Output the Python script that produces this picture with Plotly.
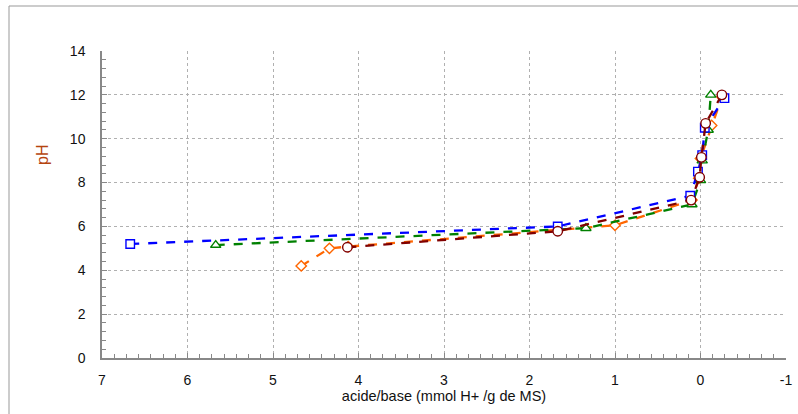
import plotly.graph_objects as go

# Data
orange_x = [4.67, 4.34, 4.12, 1.00, 0.10, 0.02, 0.00, -0.13, -0.25]
orange_y = [4.20, 5.00, 5.08, 6.05, 7.20, 8.20, 9.10, 10.60, 11.90]

green_x = [5.67, 1.34, 0.10, 0.00, -0.02, -0.09, -0.12]
green_y = [5.15, 5.92, 7.00, 8.10, 9.00, 10.40, 12.00]

blue_x = [6.67, 1.67, 0.12, 0.03, -0.02, -0.05, -0.28]
blue_y = [5.20, 6.00, 7.40, 8.50, 9.25, 10.50, 11.85]

red_x = [4.13, 1.67, 0.11, 0.01, -0.01, -0.06, -0.25]
red_y = [5.05, 5.78, 7.20, 8.24, 9.15, 10.70, 12.00]

x_ticks = [7, 6, 5, 4, 3, 2, 1, 0, -1]
y_ticks = [0, 2, 4, 6, 8, 10, 12, 14]

FONT = "Liberation Sans, Arial, sans-serif"

fig = go.Figure()

def add(xs, ys, color, symbol, size):
    fig.add_trace(go.Scatter(
        x=xs, y=ys, mode="lines+markers",
        line=dict(color=color, width=2.3, dash="dash"),
        marker=dict(symbol=symbol, size=size, color="white",
                    line=dict(color=color, width=1.4)),
        showlegend=False,
    ))

add(orange_x, orange_y, "#FF6600", "diamond", 8)
add(green_x, green_y, "#008000", "triangle-up", 9)
add(blue_x, blue_y, "#0000FF", "square", 8.5)
add(red_x, red_y, "#800000", "circle", 9.5)

fig.update_layout(
    width=798, height=414,
    margin=dict(l=102, r=12, t=51, b=56),
    paper_bgcolor="white", plot_bgcolor="white",
    font=dict(family=FONT, size=14, color="#111111"),
    xaxis=dict(
        range=[7, -1], tickmode="array", tickvals=x_ticks,
        ticktext=[str(v) for v in x_ticks],
        showgrid=True, gridcolor="#b0b0b0", griddash="dot", gridwidth=1,
        showline=True, linecolor="#888888", linewidth=1.5,
        ticks="inside", ticklen=5, tickcolor="#888888",
        minor=dict(dtick=1/7, ticks="inside", ticklen=4, tickcolor="#888888", showgrid=False),
        zeroline=False, ticklabelstandoff=8, automargin=False,
        tickfont=dict(size=14),
        title=dict(text="acide/base (mmol H+ /g de MS)", font=dict(size=14.5, color="#111111"), standoff=4),
    ),
    yaxis=dict(
        range=[0, 14], tickmode="array", tickvals=y_ticks,
        showgrid=True, gridcolor="#b0b0b0", griddash="dot", gridwidth=1,
        showline=True, linecolor="#888888", linewidth=1.5,
        ticks="inside", ticklen=5, tickcolor="#888888",
        minor=dict(dtick=0.4, ticks="inside", ticklen=4, tickcolor="#888888", showgrid=False),
        zeroline=False, ticklabelstandoff=12, automargin=False,
        tickfont=dict(size=14),
    ),
    annotations=[dict(
        text="pH", xref="paper", yref="paper",
        x=(42 - 102) / 684, y=(358 - 155) / 307,
        showarrow=False, textangle=-90,
        font=dict(family=FONT, size=16, color="#B5440F"),
        xanchor="center", yanchor="middle",
    )],
    shapes=[dict(
        type="rect", xref="paper", yref="paper",
        x0=(9 - 102) / 684, x1=(805 - 102) / 684,
        y0=(358 - 425) / 307, y1=(358 - 6) / 307,
        line=dict(color="#999999", width=1), fillcolor="rgba(0,0,0,0)",
        layer="below",
    )],
)

fig.write_html("out.html")
